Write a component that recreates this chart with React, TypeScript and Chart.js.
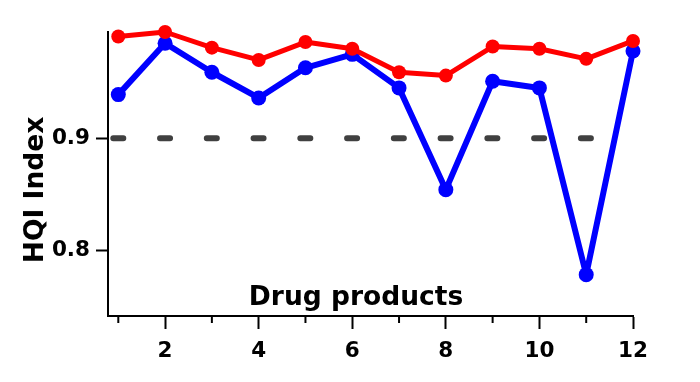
import React, { useEffect, useRef } from "react";
import { Chart, registerables } from "chart.js";

Chart.register(...registerables);

const products = [1, 2, 3, 4, 5, 6, 7, 8, 9, 10, 11, 12];
const blueValues = [0.939, 0.985, 0.959, 0.936, 0.963, 0.975, 0.945, 0.854, 0.951, 0.945, 0.778, 0.978];
const redValues = [0.991, 0.995, 0.981, 0.970, 0.986, 0.980, 0.959, 0.956, 0.982, 0.980, 0.971, 0.987];
const thresholdValue = 0.9;
const thresholdRange = [0.893, 11.107];
const yTickValues = [0.8, 0.9];
const xTitle = "Drug products";
const yTitle = "HQI Index";

const FONT = "'DejaVu Sans', 'Liberation Sans', Arial, sans-serif";

const annotPlugin = {
  id: "annot",
  afterDraw(chart: any) {
    const ctx = chart.ctx;
    const xs = chart.scales.x;
    const area = chart.chartArea;
    ctx.save();
    // minor ticks at odd positions
    ctx.strokeStyle = "#000";
    ctx.lineWidth = 2;
    products.forEach((v) => {
      if (v % 2 === 1) {
        const px = xs.getPixelForValue(v);
        ctx.beginPath();
        ctx.moveTo(px, area.bottom);
        ctx.lineTo(px, area.bottom + 7);
        ctx.stroke();
      }
    });
    // x title inside plot
    ctx.fillStyle = "#000";
    ctx.font = `bold 26.5px ${FONT}`;
    ctx.textAlign = "center";
    ctx.textBaseline = "alphabetic";
    ctx.fillText(xTitle, 356, 305);
    // y title
    ctx.translate(43, 190);
    ctx.rotate(-Math.PI / 2);
    ctx.font = `bold 26.5px ${FONT}`;
    ctx.textAlign = "center";
    ctx.textBaseline = "alphabetic";
    ctx.fillText(yTitle, 0, 0);
    ctx.restore();
  },
};

export default function App() {
  const ref = useRef<HTMLCanvasElement>(null);
  useEffect(() => {
    if (!ref.current) return;
    const chart = new Chart(ref.current, {
      type: "line",
      data: {
        datasets: [
          {
            label: "red",
            data: products.map((p, i) => ({ x: p, y: redValues[i] })),
            borderColor: "#ff0000",
            backgroundColor: "#ff0000",
            borderWidth: 5,
            borderJoinStyle: "round",
            pointRadius: 7,
            pointBorderWidth: 0,
            pointBackgroundColor: "#ff0000",
            clip: false as any,
            order: 0,
          },
          {
            label: "blue",
            data: products.map((p, i) => ({ x: p, y: blueValues[i] })),
            borderColor: "#0000ff",
            backgroundColor: "#0000ff",
            borderWidth: 6,
            borderJoinStyle: "round",
            pointRadius: 7.5,
            pointBorderWidth: 0,
            pointBackgroundColor: "#0000ff",
            clip: false as any,
            order: 1,
          },
          {
            label: "threshold",
            data: thresholdRange.map((x) => ({ x, y: thresholdValue })),
            borderColor: "#404040",
            borderWidth: 6,
            borderDash: [10, 36.76],
            borderCapStyle: "round",
            pointRadius: 0,
            clip: false as any,
            order: 2,
          },
        ],
      },
      options: {
        responsive: false,
        animation: false,
        layout: { padding: { top: 32, right: 67, bottom: 0, left: 0 } },
        plugins: { legend: { display: false }, tooltip: { enabled: false } },
        scales: {
          x: {
            type: "linear",
            min: 0.78,
            max: 12,
            afterBuildTicks: (s: any) => {
              s.ticks = products.map((v) => ({ value: v }));
            },
            afterFit: (s: any) => {
              s.height = 66;
            },
            grid: {
              drawOnChartArea: false,
              tickLength: 13,
              tickWidth: 2,
              tickColor: (c: any) => (c.tick && c.tick.value % 2 === 0 ? "#000" : "rgba(0,0,0,0)"),
            },
            border: { color: "#000", width: 2 },
            ticks: {
              autoSkip: false,
              maxRotation: 0,
              padding: 10,
              color: "#000",
              font: { family: FONT, size: 21.5, weight: "bold" },
              callback: (v: any) => (v % 2 === 0 ? String(v) : ""),
            },
          },
          y: {
            type: "linear",
            min: 0.741,
            max: 0.995,
            afterBuildTicks: (s: any) => {
              s.ticks = yTickValues.map((v) => ({ value: v }));
            },
            afterFit: (s: any) => {
              s.width = 108;
            },
            grid: {
              drawOnChartArea: false,
              tickLength: 12,
              tickWidth: 2,
              tickColor: "#000",
            },
            border: { color: "#000", width: 2 },
            ticks: {
              padding: 6,
              color: "#000",
              font: { family: FONT, size: 21.5, weight: "bold" },
              callback: (v: any) => Number(v).toFixed(1),
            },
          },
        },
      },
      plugins: [annotPlugin],
    } as any);
    return () => chart.destroy();
  }, []);
  return (
    <div style={{ position: "fixed", left: 0, top: 0, width: 700, height: 382, background: "#fff" }}>
      <canvas ref={ref} width={700} height={382} style={{ display: "block" }} />
    </div>
  );
}
